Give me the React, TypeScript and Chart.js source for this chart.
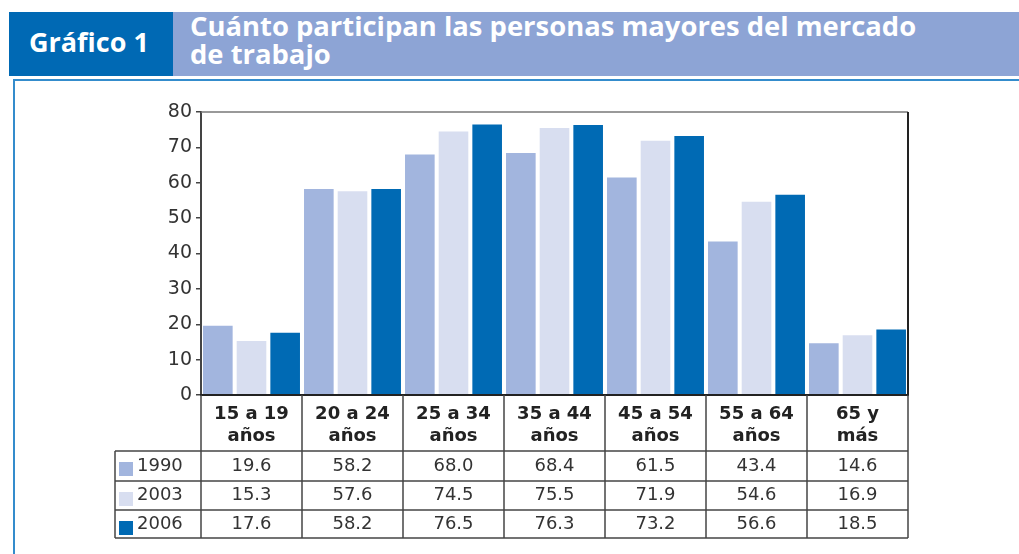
import React, { useEffect, useRef } from "react";
import { Chart, registerables } from "chart.js";

Chart.register(...registerables);

const categories: string[][] = [
  ["15 a 19", "años"],
  ["20 a 24", "años"],
  ["25 a 34", "años"],
  ["35 a 44", "años"],
  ["45 a 54", "años"],
  ["55 a 64", "años"],
  ["65 y", "más"],
];
const seriesNames = ["1990", "2003", "2006"];
const values1990 = [19.6, 58.2, 68.0, 68.4, 61.5, 43.4, 14.6];
const values2003 = [15.3, 57.6, 74.5, 75.5, 71.9, 54.6, 16.9];
const values2006 = [17.6, 58.2, 76.5, 76.3, 73.2, 56.6, 18.5];
const yTicks = [0, 10, 20, 30, 40, 50, 60, 70, 80];

const colors = ["rgb(162,181,222)", "rgb(216,222,240)", "rgb(0,106,180)"];
const FONT = "'DejaVu Sans', sans-serif";

const boxPlugin = {
  id: "boxPlugin",
  afterDatasetsDraw(chart: any) {
    const { ctx, chartArea } = chart;
    const { left, right, top, bottom } = chartArea;
    ctx.save();
    ctx.lineWidth = 1.5;
    ctx.strokeStyle = "#777";
    ctx.beginPath();
    ctx.moveTo(left, top);
    ctx.lineTo(right, top);
    ctx.stroke();
    ctx.lineWidth = 2;
    ctx.strokeStyle = "#222";
    ctx.beginPath();
    ctx.moveTo(right, top);
    ctx.lineTo(right, bottom);
    ctx.stroke();
    ctx.beginPath();
    ctx.moveTo(left - 1, bottom);
    ctx.lineTo(right + 1, bottom);
    ctx.stroke();
    ctx.restore();
  },
};

const tablePlugin = {
  id: "tablePlugin",
  afterDraw(chart: any) {
    const { ctx, chartArea } = chart;
    const xs = chart.scales.x;
    const { left, right, bottom } = chartArea;
    const n = categories.length;
    const catW = (right - left) / n;
    const tableLeft = 115;
    const headerBottom = bottom + 56;
    const rowH = [30, 29, 28];
    const rowTops = [headerBottom, headerBottom + rowH[0], headerBottom + rowH[0] + rowH[1]];
    const tableBottom = rowTops[2] + rowH[2];
    const data = [values1990, values2003, values2006];

    ctx.save();
    ctx.strokeStyle = "#444";
    ctx.lineWidth = 1.5;
    for (let i = 0; i <= n; i++) {
      const x = i === n ? right : xs.getPixelForValue(i) - catW / 2;
      ctx.beginPath();
      ctx.moveTo(x, bottom);
      ctx.lineTo(x, tableBottom);
      ctx.stroke();
    }
    ctx.beginPath();
    ctx.moveTo(tableLeft, headerBottom);
    ctx.lineTo(tableLeft, tableBottom);
    ctx.stroke();
    [headerBottom, rowTops[1], rowTops[2], tableBottom].forEach((y) => {
      ctx.beginPath();
      ctx.moveTo(tableLeft, y);
      ctx.lineTo(right, y);
      ctx.stroke();
    });

    ctx.fillStyle = "#333";
    ctx.font = `18px ${FONT}`;
    ctx.textBaseline = "middle";
    for (let r = 0; r < 3; r++) {
      const cy = rowTops[r] + rowH[r] / 2;
      ctx.fillStyle = colors[r];
      ctx.fillRect(tableLeft + 4, rowTops[r] + 11, 14, 14);
      ctx.fillStyle = "#333";
      ctx.textAlign = "left";
      ctx.fillText(seriesNames[r], tableLeft + 22, cy);
      ctx.textAlign = "center";
      for (let c = 0; c < n; c++) {
        const cx = xs.getPixelForValue(c);
        ctx.fillText(data[r][c].toFixed(1), cx, cy);
      }
    }
    ctx.restore();
  },
};

function BarChart() {
  const ref = useRef<HTMLCanvasElement | null>(null);
  useEffect(() => {
    if (!ref.current) return;
    const chart = new Chart(ref.current, {
      type: "bar",
      data: {
        labels: categories,
        datasets: [
          { label: seriesNames[0], data: values1990, backgroundColor: colors[0] },
          { label: seriesNames[1], data: values2003, backgroundColor: colors[1] },
          { label: seriesNames[2], data: values2006, backgroundColor: colors[2] },
        ],
      },
      options: {
        responsive: false,
        animation: false,
        maintainAspectRatio: false,
        layout: { padding: { left: 0, right: 111, top: 28, bottom: 0 } },
        datasets: { bar: { categoryPercentage: 1.0, barPercentage: 0.88 } },
        plugins: {
          legend: { display: false },
          tooltip: { enabled: false },
          title: { display: false },
        },
        scales: {
          x: {
            grid: { display: false, drawTicks: false },
            border: { display: false },
            ticks: {
              color: "#222",
              padding: 9,
              font: { family: "'DejaVu Sans', sans-serif", size: 18, weight: "bold", lineHeight: 1.2 },
              maxRotation: 0,
              autoSkip: false,
            },
            afterFit: (scale: any) => {
              scale.height = 159;
            },
          },
          y: {
            min: 0,
            max: 80,
            afterBuildTicks: (scale: any) => {
              scale.ticks = yTicks.map((v) => ({ value: v }));
            },
            grid: { drawOnChartArea: false, drawTicks: true, tickLength: 5, color: "#444", lineWidth: 1.5 },
            border: { display: true, color: "#444", width: 2 },
            ticks: {
              color: "#333",
              padding: 4,
              font: { family: "'DejaVu Sans', sans-serif", size: 19 },
            },
            afterFit: (scale: any) => {
              scale.width = 201;
            },
          },
        },
      },
      plugins: [boxPlugin, tablePlugin],
    } as any);
    return () => chart.destroy();
  }, []);
  return <canvas ref={ref} width={1019} height={470} style={{ position: "absolute", left: 0, top: 84, width: 1019, height: 470 }} />;
}

export default function App() {
  return (
    <div style={{ position: "fixed", left: 0, top: 0, width: 1019, height: 554, background: "#fff", overflow: "hidden" }}>
      <div style={{ position: "absolute", left: 9, top: 12, width: 164, height: 64, background: "rgb(0,105,180)" }} />
      <div style={{ position: "absolute", left: 173, top: 12, width: 846, height: 64, background: "rgb(141,164,213)" }} />
      <div
        style={{
          position: "absolute",
          left: 29,
          top: 28,
          color: "#fff",
          fontFamily: "'Open Sans', sans-serif",
          fontWeight: 700,
          fontSize: 27,
          lineHeight: "28px",
          whiteSpace: "nowrap",
        }}
      >
        Gráfico 1
      </div>
      <div
        style={{
          position: "absolute",
          left: 190,
          top: 12,
          color: "#fff",
          fontFamily: "'Open Sans', sans-serif",
          fontWeight: 700,
          fontSize: 27.4,
          lineHeight: "28px",
          whiteSpace: "nowrap",
        }}
      >
        Cuánto participan las personas mayores del mercado
        <br />
        de trabajo
      </div>
      <div style={{ position: "absolute", left: 13, top: 79, width: 1006, height: 2, background: "rgb(52,140,204)" }} />
      <div style={{ position: "absolute", left: 13, top: 79, width: 2, height: 475, background: "rgb(52,140,204)" }} />
      <BarChart />
    </div>
  );
}
